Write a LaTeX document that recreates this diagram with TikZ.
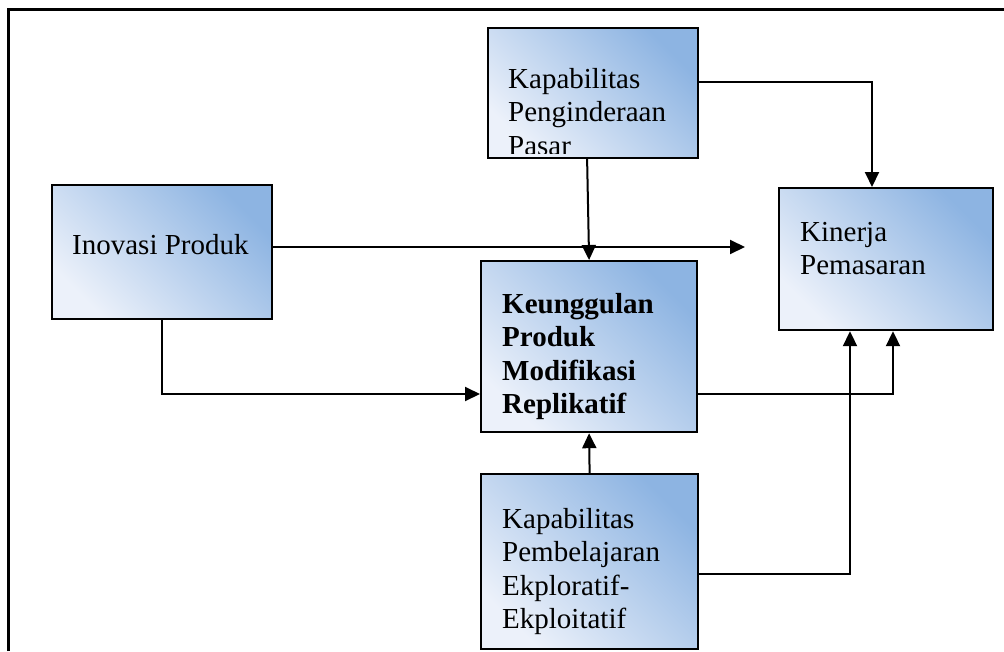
\documentclass[tikz,border=0pt]{standalone}
\usepackage{fontspec}
\setmainfont{Liberation Serif}
\usetikzlibrary{arrows.meta}
\definecolor{boxdark}{RGB}{141,180,226}
\definecolor{boxlight}{RGB}{236,241,250}
\begin{document}
\begin{tikzpicture}[x=1pt,y=-1pt,
  panel/.style={draw=black, line width=2.2pt, shade, top color=boxdark,
    bottom color=boxlight, shading angle=-45, inner sep=0pt, anchor=north west},
  caption/.style={inner sep=0pt, anchor=base west, align=left,
    font=\fontsize{29}{33.5}\selectfont},
  link/.style={line width=2pt, -{Triangle[length=15pt,width=14pt]}},
  frameline/.style={line width=2.2pt}]
\useasboundingbox (0,0) rectangle (1004,651);

% outer frame (open at right and bottom)
\coordinate (f1) at (8.5,651);
\coordinate (f2) at (8.5,9.5);
\coordinate (f3) at (1004,9.5);
\draw[frameline] (f1) -- (f2) -- (f3);

% boxes
\node[panel, minimum width=210pt, minimum height=130pt] (A) at (487,27) {};
\node[panel, minimum width=220pt, minimum height=134pt] (B) at (51,184) {};
\node[panel, minimum width=216pt, minimum height=171pt] (C) at (480,260) {};
\node[panel, minimum width=217pt, minimum height=175pt] (D) at (480,473) {};
\node[panel, minimum width=214pt, minimum height=142pt] (E) at (778,187) {};

% box texts (base anchor sits on the last line)
\begin{scope}
  \clip (487,27) rectangle (697,153);
  \node[caption] (tA) at (508,155) {Kapabilitas\\Penginderaan\\Pasar};
\end{scope}
\node[caption] (tB) at (72,254) {Inovasi Produk};
\node[caption, font=\fontsize{29}{33.5}\selectfont\bfseries] (tC) at (502,413.5)
  {Keunggulan\\Produk\\Modifikasi\\Replikatif};
\node[caption] (tD) at (502,628.5) {Kapabilitas\\Pembelajaran\\Ekploratif-\\Ekploitatif};
\node[caption] (tE) at (800,274.5) {Kinerja\\Pemasaran};

% bend points and free end
\coordinate (kOut) at (745,247);
\coordinate (kA) at (872,82);
\coordinate (kB) at (162,394);
\coordinate (kC) at (893,394);
\coordinate (kD) at (850,574);

% connectors
\draw[link] (B.east |- kOut) -- (kOut);
\draw[link] ([xshift=-6pt]A.south) -- (C.north);
\draw[link] (A.east |- kA) -| (kA |- E.north);
\draw[link] (kB |- B.south) |- (C.west |- kB);
\draw[link] (C.east |- kC) -| (kC |- E.south);
\draw[link] (D.east |- kD) -| (kD |- E.south);
\draw[link] (D.north) -- (C.south);
\end{tikzpicture}
\end{document}
